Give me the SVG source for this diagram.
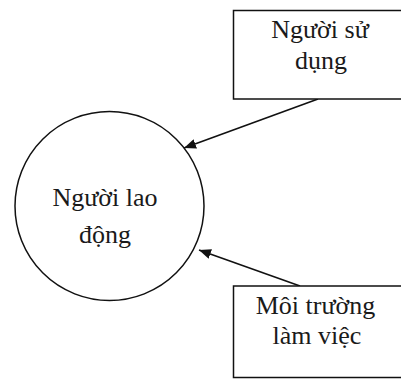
<svg xmlns="http://www.w3.org/2000/svg" width="401" height="379" viewBox="0 0 401 379">
<defs>
<style>
.shape{fill:#fff;stroke:#111;stroke-width:1.5}
.lbl{font-family:"Liberation Serif","Times New Roman",serif;font-size:26px;fill:#1a1a1a;text-anchor:middle}
.conn{stroke:#111;stroke-width:1.6;fill:none}
</style>
<marker id="ah" viewBox="0 0 12 10" refX="12" refY="5" markerWidth="12" markerHeight="10" markerUnits="userSpaceOnUse" orient="auto">
<path d="M0,0 L12,5 L0,10 Z" fill="#111"/>
</marker>
</defs>
<rect width="401" height="379" fill="#fff"/>
<g id="connectors">
<line class="conn" x1="318" y1="99" x2="184" y2="148" marker-end="url(#ah)"/>
<line class="conn" x1="300" y1="286" x2="199" y2="250" marker-end="url(#ah)"/>
</g>
<g id="nguoi-lao-dong">
<circle class="shape" cx="109.5" cy="206" r="94.5"/>
<text class="lbl" x="105" y="206">Người lao</text>
<text class="lbl" x="105" y="243">động</text>
</g>
<g id="nguoi-su-dung">
<rect class="shape" x="233.5" y="10.5" width="180" height="88.5"/>
<text class="lbl" x="320" y="38">Người sử</text>
<text class="lbl" x="321" y="69">dụng</text>
</g>
<g id="moi-truong-lam-viec">
<rect class="shape" x="233.5" y="286" width="180" height="91.5"/>
<text class="lbl" x="315.5" y="314">Môi trường</text>
<text class="lbl" x="317" y="344">làm việc</text>
</g>
</svg>
